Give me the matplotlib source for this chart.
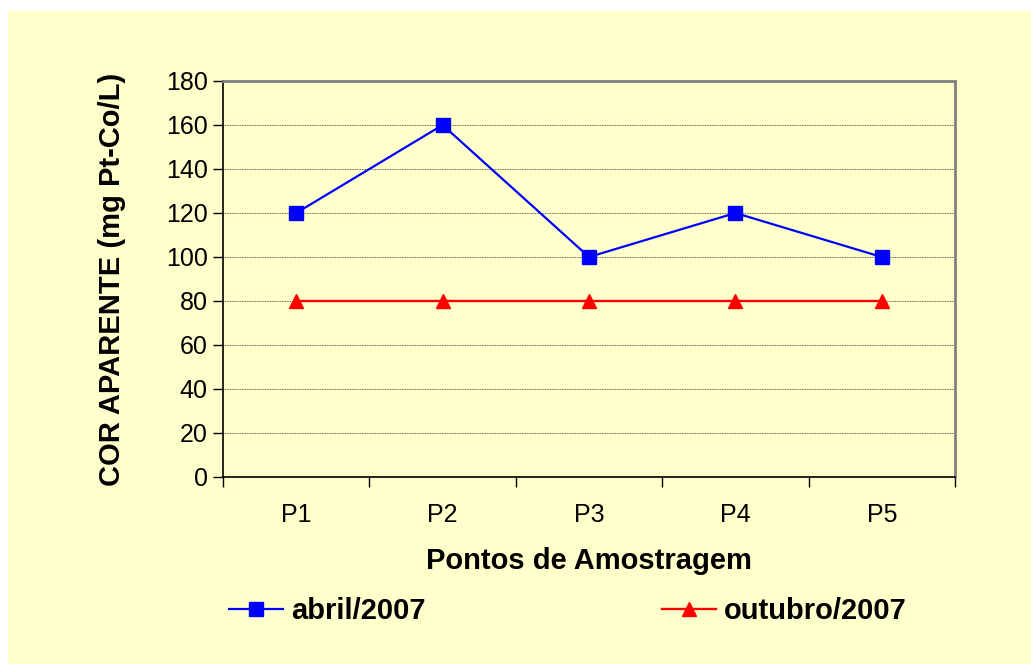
import numpy as np
import matplotlib.pyplot as plt

pontos = ['P1', 'P2', 'P3', 'P4', 'P5']
abril = [120, 160, 100, 120, 100]
outubro = [80, 80, 80, 80, 80]

plt.rcParams['font.family'] = ['Liberation Sans', 'DejaVu Sans']
bg = '#FFFFCC'

fig = plt.figure(figsize=(10.31, 6.64), dpi=100)
fig.patches.append(plt.Rectangle((8 / 1031, 0), 1, 1 - 11 / 664, transform=fig.transFigure,
                                 facecolor=bg, edgecolor='none', zorder=-10))
ax = fig.add_axes([223 / 1031, 1 - 477 / 664, 732 / 1031, 396 / 664])
ax.set_facecolor(bg)

x = np.arange(len(pontos))
ax.plot(x, abril, color='#0000FF', lw=1.6, marker='s', ms=10, label='abril/2007', clip_on=False)
ax.plot(x, outubro, color='#FF0000', lw=1.7, marker='^', ms=10.5, label='outubro/2007', clip_on=False)

ax.set_xlim(-0.5, 4.5)
ax.set_ylim(0, 180)
ax.set_yticks(range(0, 181, 20))
ax.yaxis.grid(True, color='#333333', ls=(0, (1, 1)), lw=0.6)
ax.set_axisbelow(True)

ax.set_xticks(np.arange(-0.5, 5, 1))
ax.set_xticklabels([])
ax.set_xticks(x, minor=True)
ax.set_xticklabels(pontos, minor=True)
ax.tick_params(axis='x', which='minor', length=0, pad=19, labelsize=18)
ax.tick_params(axis='x', which='major', length=7, width=1, color='#000000', direction='out')
ax.tick_params(axis='y', length=7, width=1, labelsize=18, pad=4)

for s in ['left', 'bottom']:
    ax.spines[s].set_color('black')
    ax.spines[s].set_linewidth(1.2)
for s in ['top', 'right']:
    ax.spines[s].set_color('#808080')
    ax.spines[s].set_linewidth(2)

ax.set_xlabel('Pontos de Amostragem', fontsize=21, fontweight='bold', labelpad=14)
ax.set_ylabel('COR APARENTE (mg Pt-Co/L)', fontsize=21, fontweight='bold', labelpad=29)

fig.legend(loc='center', bbox_to_anchor=(568 / 1031, 1 - 611 / 664), ncol=2, frameon=False,
           prop={'size': 21, 'weight': 'bold'}, handlelength=1.85, handletextpad=0.28,
           columnspacing=8.1)

fig.savefig('out.png', dpi=100)
